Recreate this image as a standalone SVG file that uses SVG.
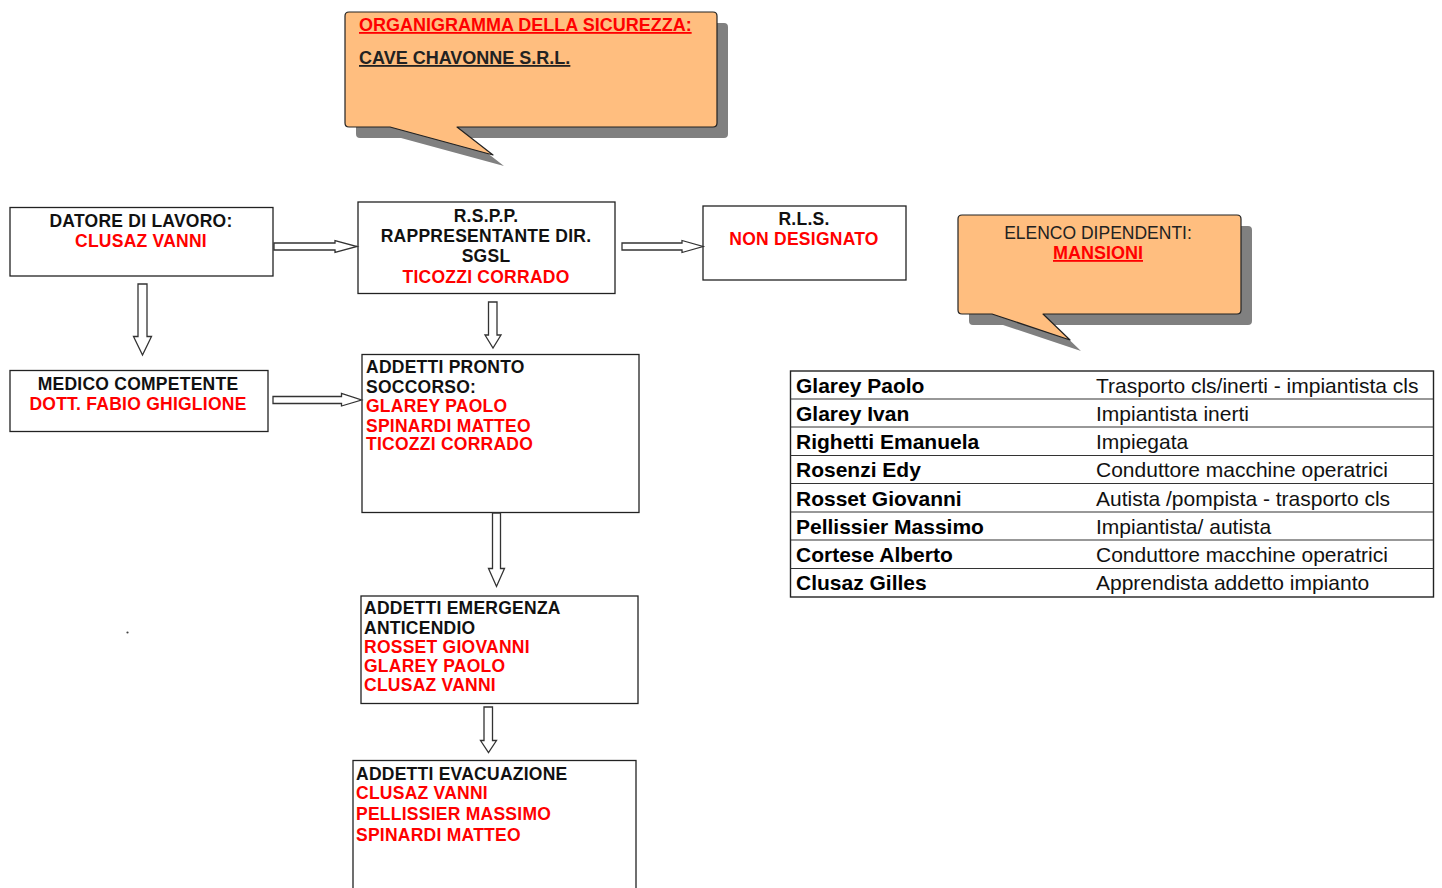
<svg xmlns="http://www.w3.org/2000/svg" width="1442" height="888" viewBox="0 0 1442 888">
<style>
.bg{fill:#fff}
.box{fill:#fff;stroke:#222;stroke-width:1.3}
.call{fill:#ffbe7f;stroke:#222;stroke-width:1.2;stroke-linejoin:round}
.shadow{fill:#808080}
.arr{fill:#fff;stroke:#333;stroke-width:1.3;stroke-linejoin:miter}
text{font-family:"Liberation Sans",Arial,sans-serif}
.b{font-size:17.5px;font-weight:bold;fill:#111;letter-spacing:0.25px}
.r{font-size:17.5px;font-weight:bold;fill:#ff0000;letter-spacing:0.25px}
.c{text-anchor:middle}
.u{text-decoration:underline}
.tn{font-size:21px;font-weight:bold;fill:#000}
.td{font-size:21px;fill:#111}
.grid{stroke:#333;stroke-width:1.2}
</style>
<rect class="bg" x="0" y="0" width="1442" height="888"/>

<g id="callout-title">
<path class="shadow" d="M360,23 H724 Q728,23 728,27 V134 Q728,138 724,138 H468 L504,166 L401,138 H360 Q356,138 356,134 V27 Q356,23 360,23 Z"/>
<path class="call" d="M349,12 H713 Q717,12 717,16 V123 Q717,127 713,127 H457 L493,155 L390,127 H349 Q345,127 345,123 V16 Q345,12 349,12 Z"/>
<text x="359" y="31" font-size="18" font-weight="bold" fill="#ff0000" class="u">ORGANIGRAMMA DELLA SICUREZZA:</text>
<text x="359" y="64" font-size="18" font-weight="bold" fill="#222" class="u">CAVE CHAVONNE S.R.L.</text>
</g>

<g id="callout-elenco">
<path class="shadow" d="M973,226 H1248 Q1252,226 1252,230 V321 Q1252,325 1248,325 H1054 L1081,351 L1003,325 H973 Q969,325 969,321 V230 Q969,226 973,226 Z"/>
<path class="call" d="M962,215 H1237 Q1241,215 1241,219 V310 Q1241,314 1237,314 H1043 L1070,340 L992,314 H962 Q958,314 958,310 V219 Q958,215 962,215 Z"/>
<text x="1098" y="239" font-size="17.5" fill="#222" class="c">ELENCO DIPENDENTI:</text>
<text x="1098" y="259" font-size="18" font-weight="bold" fill="#ff0000" class="c u">MANSIONI</text>
</g>

<g id="datore">
<rect class="box" x="10" y="207.5" width="263" height="68.5"/>
<text class="b c" x="141" y="226.5">DATORE DI LAVORO:</text>
<text class="r c" x="141" y="247">CLUSAZ VANNI</text>
</g>

<g id="rspp">
<rect class="box" x="358" y="202" width="257" height="91.5"/>
<text class="b c" x="486" y="222">R.S.P.P.</text>
<text class="b c" x="486" y="242">RAPPRESENTANTE DIR.</text>
<text class="b c" x="486" y="262">SGSL</text>
<text class="r c" x="486" y="283">TICOZZI CORRADO</text>
</g>

<g id="rls">
<rect class="box" x="703" y="206" width="203" height="74"/>
<text class="b c" x="804" y="225">R.L.S.</text>
<text class="r c" x="804" y="245">NON DESIGNATO</text>
</g>

<g id="medico">
<rect class="box" x="10" y="370.5" width="258" height="61"/>
<text class="b c" x="138" y="390">MEDICO COMPETENTE</text>
<text class="r c" x="138" y="410">DOTT. FABIO GHIGLIONE</text>
</g>

<g id="pronto-soccorso">
<rect class="box" x="362" y="354.5" width="277" height="158"/>
<text class="b" x="366" y="372.5">ADDETTI PRONTO</text>
<text class="b" x="366" y="392.5">SOCCORSO:</text>
<text class="r" x="366" y="411.5">GLAREY PAOLO</text>
<text class="r" x="366" y="431.5">SPINARDI MATTEO</text>
<text class="r" x="366" y="449.5">TICOZZI CORRADO</text>
</g>

<g id="emergenza">
<rect class="box" x="361" y="596" width="277" height="107.5"/>
<text class="b" x="364" y="613.5">ADDETTI EMERGENZA</text>
<text class="b" x="364" y="633.5">ANTICENDIO</text>
<text class="r" x="364" y="653">ROSSET GIOVANNI</text>
<text class="r" x="364" y="671.5">GLAREY PAOLO</text>
<text class="r" x="364" y="690.5">CLUSAZ VANNI</text>
</g>

<g id="evacuazione">
<rect class="box" x="353" y="760.5" width="283" height="140"/>
<text class="b" x="356" y="779.5">ADDETTI EVACUAZIONE</text>
<text class="r" x="356" y="799">CLUSAZ VANNI</text>
<text class="r" x="356" y="820">PELLISSIER MASSIMO</text>
<text class="r" x="356" y="841">SPINARDI MATTEO</text>
</g>

<g id="connectors">
<polygon class="arr" points="274,243 335,243 335,240.5 357,246.5 335,252.5 335,250 274,250"/>
<polygon class="arr" points="622,243 682,243 682,240.5 703,246.5 682,252.5 682,250 622,250"/>
<polygon class="arr" points="138,284 147,284 147,336.5 151.5,336.5 142.5,355 133.5,336.5 138,336.5"/>
<polygon class="arr" points="273,396.5 341.5,396.5 341.5,393.5 361.5,400 341.5,406 341.5,403.5 273,403.5"/>
<polygon class="arr" points="488.5,302 497,302 497,335 501,335 493,348 485,335 488.5,335"/>
<polygon class="arr" points="492.5,513 500.5,513 500.5,568.5 504.5,568.5 496.5,586.5 488.5,568.5 492.5,568.5"/>
<polygon class="arr" points="484,707 492.5,707 492.5,740.5 496.5,740.5 488.5,752.5 480.5,740.5 484,740.5"/>
</g>

<g id="tabella-dipendenti">
<rect x="790.5" y="371" width="643" height="226" fill="#fff" stroke="#222" stroke-width="1.4"/>
<g class="grid">
<line x1="790.5" y1="399" x2="1433.5" y2="399"/>
<line x1="790.5" y1="427" x2="1433.5" y2="427"/>
<line x1="790.5" y1="455.5" x2="1433.5" y2="455.5"/>
<line x1="790.5" y1="483.5" x2="1433.5" y2="483.5"/>
<line x1="790.5" y1="512" x2="1433.5" y2="512"/>
<line x1="790.5" y1="540" x2="1433.5" y2="540"/>
<line x1="790.5" y1="568.5" x2="1433.5" y2="568.5"/>
</g>
<text class="tn" x="796" y="392.5">Glarey Paolo</text>
<text class="td" x="1096" y="392.5">Trasporto cls/inerti - impiantista cls</text>
<text class="tn" x="796" y="420.5">Glarey Ivan</text>
<text class="td" x="1096" y="420.5">Impiantista inerti</text>
<text class="tn" x="796" y="449">Righetti Emanuela</text>
<text class="td" x="1096" y="449">Impiegata</text>
<text class="tn" x="796" y="477">Rosenzi Edy</text>
<text class="td" x="1096" y="477">Conduttore macchine operatrici</text>
<text class="tn" x="796" y="505.5">Rosset Giovanni</text>
<text class="td" x="1096" y="505.5">Autista /pompista - trasporto cls</text>
<text class="tn" x="796" y="533.5">Pellissier Massimo</text>
<text class="td" x="1096" y="533.5">Impiantista/ autista</text>
<text class="tn" x="796" y="562">Cortese Alberto</text>
<text class="td" x="1096" y="562">Conduttore macchine operatrici</text>
<text class="tn" x="796" y="590">Clusaz Gilles</text>
<text class="td" x="1096" y="590">Apprendista addetto impianto</text>
</g>

<circle cx="127.5" cy="632.5" r="1.1" fill="#444"/>
</svg>
